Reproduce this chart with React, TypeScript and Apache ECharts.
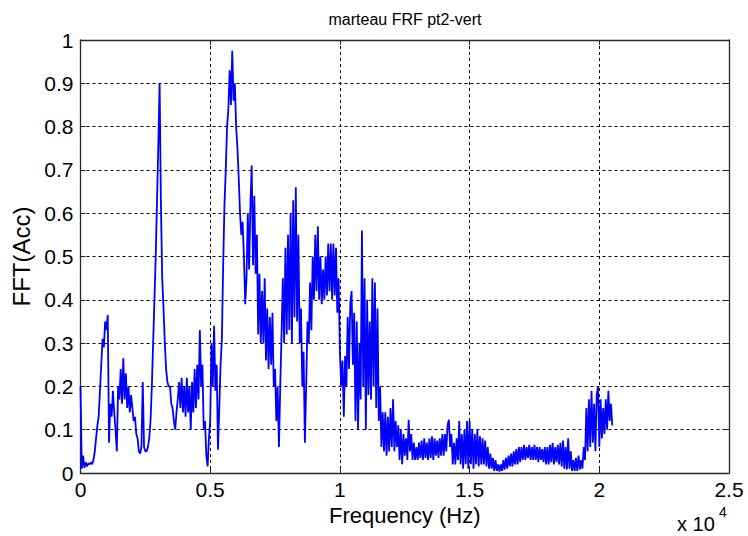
import React, { useEffect, useRef } from "react";
import * as echarts from "echarts";

// Spectrum amplitude, one array per 1 kHz span, sampled every BIN_HZ.
const BIN_HZ = 50;
const band00 = [0.2, 0.01, 0.04, 0.012, 0.025, 0.015, 0.022, 0.02, 0.025, 0.02, 0.03, 0.05, 0.08, 0.11, 0.13, 0.19, 0.25, 0.31, 0.29, 0.35];
const band01 = [0.33, 0.365, 0.07, 0.16, 0.13, 0.19, 0.14, 0.1, 0.05, 0.2, 0.17, 0.24, 0.16, 0.265, 0.17, 0.23, 0.15, 0.2, 0.14, 0.18];
const band02 = [0.15, 0.12, 0.13, 0.09, 0.08, 0.05, 0.045, 0.06, 0.21, 0.06, 0.05, 0.05, 0.06, 0.08, 0.12, 0.2, 0.3, 0.4, 0.5, 0.63];
const band03 = [0.76, 0.9, 0.62, 0.45, 0.38, 0.3, 0.24, 0.21, 0.2, 0.2, 0.16, 0.15, 0.12, 0.1, 0.14, 0.17, 0.21, 0.15, 0.22, 0.14];
const band04 = [0.2, 0.13, 0.22, 0.14, 0.2, 0.1, 0.21, 0.14, 0.24, 0.15, 0.25, 0.17, 0.33, 0.2, 0.25, 0.1, 0.12, 0.04, 0.015, 0.08];
const band05 = [0.12, 0.3, 0.2, 0.34, 0.19, 0.25, 0.054, 0.15, 0.25, 0.31, 0.48, 0.62, 0.7, 0.8, 0.84, 0.93, 0.85, 0.975, 0.86, 0.9];
const band06 = [0.8, 0.75, 0.68, 0.6, 0.55, 0.58, 0.5, 0.39, 0.45, 0.6, 0.47, 0.62, 0.71, 0.48, 0.64, 0.46, 0.55, 0.32, 0.46, 0.3];
const band07 = [0.42, 0.3, 0.45, 0.26, 0.38, 0.24, 0.36, 0.25, 0.37, 0.2, 0.24, 0.12, 0.2, 0.06, 0.2, 0.32, 0.45, 0.3, 0.52, 0.32];
const band08 = [0.55, 0.33, 0.6, 0.3, 0.63, 0.36, 0.66, 0.35, 0.55, 0.3, 0.38, 0.2, 0.28, 0.07, 0.2, 0.35, 0.3, 0.44, 0.33, 0.5];
const band09 = [0.4, 0.55, 0.42, 0.57, 0.4, 0.5, 0.39, 0.47, 0.4, 0.5, 0.41, 0.53, 0.42, 0.53, 0.4, 0.53, 0.41, 0.52, 0.37, 0.45];
const band10 = [0.28, 0.2, 0.26, 0.13, 0.27, 0.2, 0.36, 0.24, 0.39, 0.42, 0.25, 0.37, 0.12, 0.35, 0.1, 0.3, 0.17, 0.56, 0.2, 0.45];
const band11 = [0.1, 0.4, 0.18, 0.35, 0.17, 0.45, 0.2, 0.44, 0.15, 0.38, 0.12, 0.2, 0.06, 0.14, 0.05, 0.14, 0.04, 0.13, 0.05, 0.15];
const band12 = [0.06, 0.17, 0.05, 0.12, 0.06, 0.11, 0.03, 0.1, 0.02, 0.09, 0.04, 0.08, 0.03, 0.123, 0.05, 0.09, 0.03, 0.07, 0.03, 0.06];
const band13 = [0.03, 0.07, 0.035, 0.075, 0.03, 0.08, 0.035, 0.07, 0.03, 0.08, 0.035, 0.085, 0.03, 0.08, 0.04, 0.075, 0.035, 0.08, 0.04, 0.09];
const band14 = [0.04, 0.09, 0.05, 0.11, 0.123, 0.06, 0.09, 0.02, 0.07, 0.02, 0.08, 0.03, 0.12, 0.02, 0.09, 0.01, 0.1, 0.02, 0.12, 0.01];
const band15 = [0.12, 0.02, 0.1, 0.01, 0.09, 0.02, 0.1, 0.015, 0.085, 0.02, 0.08, 0.02, 0.075, 0.015, 0.06, 0.01, 0.045, 0.01, 0.035, 0.005];
const band16 = [0.03, 0.005, 0.02, 0.003, 0.02, 0.005, 0.03, 0.008, 0.035, 0.01, 0.04, 0.015, 0.045, 0.015, 0.05, 0.02, 0.055, 0.02, 0.06, 0.025];
const band17 = [0.06, 0.03, 0.065, 0.03, 0.06, 0.035, 0.065, 0.03, 0.06, 0.03, 0.065, 0.03, 0.06, 0.025, 0.06, 0.03, 0.055, 0.025, 0.06, 0.02];
const band18 = [0.06, 0.02, 0.065, 0.025, 0.07, 0.02, 0.06, 0.025, 0.065, 0.02, 0.07, 0.015, 0.075, 0.01, 0.06, 0.008, 0.08, 0.01, 0.05, 0.005];
const band19 = [0.03, 0.005, 0.035, 0.005, 0.04, 0.008, 0.03, 0.01, 0.06, 0.03, 0.15, 0.05, 0.17, 0.06, 0.19, 0.07, 0.16, 0.05, 0.18, 0.2];
const band20 = [0.06, 0.17, 0.08, 0.15, 0.09, 0.17, 0.1, 0.19, 0.12, 0.16, 0.11];

const bands = [
  band00, band01, band02, band03, band04, band05, band06, band07, band08, band09, band10,
  band11, band12, band13, band14, band15, band16, band17, band18, band19, band20,
];

const xTickLabels = ["0", "0.5", "1", "1.5", "2", "2.5"];
const yTickLabels = ["0", "0.1", "0.2", "0.3", "0.4", "0.5", "0.6", "0.7", "0.8", "0.9", "1"];

const TITLE = "marteau FRF pt2-vert";
const X_NAME = "Frequency (Hz)";
const Y_NAME = "FFT(Acc)";

const FONT = "Liberation Sans, Arial, sans-serif";
const AXIS_COLOR = "#262626";

export default function App() {
  const ref = useRef<HTMLDivElement>(null);

  useEffect(() => {
    if (!ref.current) return;
    const chart = echarts.init(ref.current, undefined, { renderer: "svg" });

    const spectrum = bands.flatMap((vals, k) =>
      vals.map((a, i) => [k * 1000 + i * BIN_HZ, a])
    );

    const gridDash = { type: [3, 3] as number[], color: "#000", width: 1 };

    const xBase = {
      type: "value" as const,
      min: 0,
      max: 25000,
      interval: 5000,
      axisLine: { show: true, onZero: false, lineStyle: { color: AXIS_COLOR, width: 1.3 } },
      axisTick: { show: true, inside: true, length: 5, lineStyle: { color: AXIS_COLOR } },
    };
    const yBase = {
      type: "value" as const,
      min: 0,
      max: 1,
      interval: 0.1,
      axisLine: { show: true, onZero: false, lineStyle: { color: AXIS_COLOR, width: 1.3 } },
      axisTick: { show: true, inside: true, length: 5, lineStyle: { color: AXIS_COLOR } },
    };

    chart.setOption({
      animation: false,
      backgroundColor: "#fff",
      grid: { left: 80.5, top: 40, right: 19, bottom: 63 },
      xAxis: [
        {
          ...xBase,
          position: "bottom",
          axisLabel: {
            color: "#000",
            fontFamily: FONT,
            fontSize: 21,
            margin: 6,
            formatter: (v: number) => xTickLabels[Math.round(v / 5000)] ?? "",
          },
          splitLine: { show: true, lineStyle: gridDash },
          name: X_NAME,
          nameLocation: "middle",
          nameGap: 29,
          nameTextStyle: { color: "#000", fontFamily: FONT, fontSize: 22 },
        },
        {
          ...xBase,
          position: "top",
          axisLabel: { show: false },
          splitLine: { show: false },
        },
      ],
      yAxis: [
        {
          ...yBase,
          position: "left",
          axisLabel: {
            color: "#000",
            fontFamily: FONT,
            fontSize: 21,
            margin: 7,
            formatter: (v: number) => yTickLabels[Math.round(v * 10)] ?? "",
          },
          splitLine: { show: true, lineStyle: gridDash },
          name: Y_NAME,
          nameLocation: "middle",
          nameGap: 44,
          nameTextStyle: { color: "#000", fontFamily: FONT, fontSize: 24 },
        },
        {
          ...yBase,
          position: "right",
          axisLabel: { show: false },
          splitLine: { show: false },
        },
      ],
      series: [
        {
          type: "line",
          xAxisIndex: 0,
          yAxisIndex: 0,
          data: spectrum,
          symbol: "none",
          showSymbol: false,
          lineStyle: { color: "#0000ff", width: 1.8 },
          z: 1,
        },
      ],
      graphic: [
        {
          type: "text",
          x: 405,
          y: 11,
          style: { text: TITLE, fill: "#000", font: `16px ${FONT}`, align: "center", verticalAlign: "top" },
        },
        {
          type: "text",
          x: 677,
          y: 514,
          style: { text: "x 10", fill: "#000", font: `20px ${FONT}`, align: "left", verticalAlign: "top" },
        },
        {
          type: "text",
          x: 719,
          y: 505,
          style: { text: "4", fill: "#000", font: `14px ${FONT}`, align: "left", verticalAlign: "top" },
        },
      ],
    });

    return () => chart.dispose();
  }, []);

  return (
    <div
      ref={ref}
      style={{ position: "absolute", left: 0, top: 0, width: 748, height: 536, background: "#fff" }}
    />
  );
}
